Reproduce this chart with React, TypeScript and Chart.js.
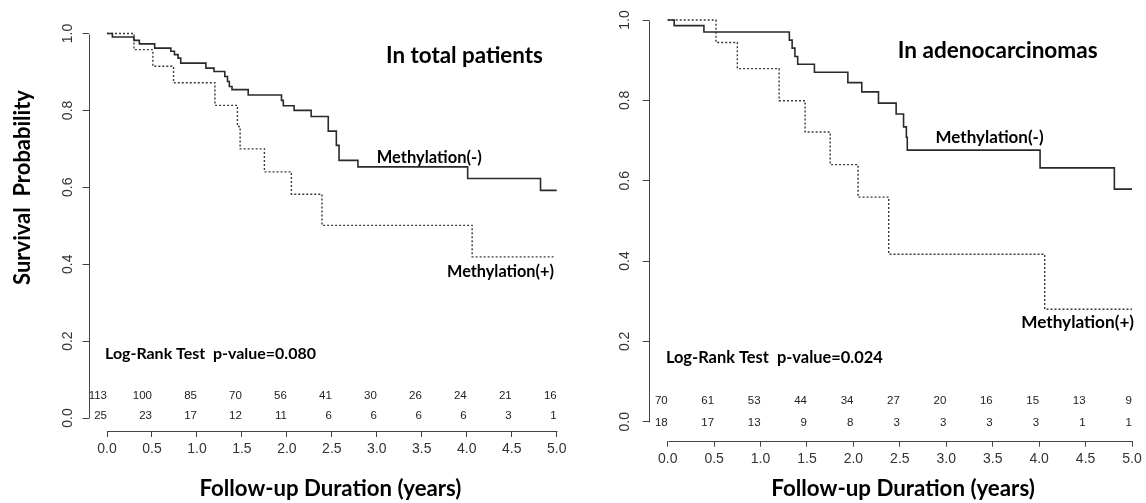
import React, { useEffect, useRef } from "react";
import { Chart, registerables } from "chart.js";

Chart.register(...registerables);

// ---------------- data ----------------
const xTickValues = [0, 0.5, 1, 1.5, 2, 2.5, 3, 3.5, 4, 4.5, 5];
const yTickValues = [0, 0.2, 0.4, 0.6, 0.8, 1.0];

// In total patients
const totalNegTimes = [0, 0.06, 0.3, 0.36, 0.53, 0.71, 0.75, 0.79, 0.82, 1.1, 1.19, 1.31, 1.34, 1.36, 1.39, 1.57, 1.94, 1.96, 2.08, 2.27, 2.46, 2.55, 2.58, 2.79, 4.01, 4.82, 5.0];
const totalNegSurv = [1, 0.991, 0.982, 0.973, 0.962, 0.954, 0.945, 0.936, 0.923, 0.91, 0.901, 0.888, 0.875, 0.862, 0.854, 0.84, 0.826, 0.812, 0.8, 0.784, 0.746, 0.709, 0.67, 0.653, 0.623, 0.592, 0.592];
const totalPosTimes = [0, 0.3, 0.51, 0.74, 1.2, 1.45, 1.48, 1.75, 2.05, 2.39, 4.06, 4.98];
const totalPosSurv = [1, 0.958, 0.915, 0.872, 0.813, 0.758, 0.7, 0.64, 0.582, 0.501, 0.419, 0.419];
const totalRiskNeg = [113, 100, 85, 70, 56, 41, 30, 26, 24, 21, 16];
const totalRiskPos = [25, 23, 17, 12, 11, 6, 6, 6, 6, 3, 1];

// In adenocarcinomas
const adenoNegTimes = [0, 0.07, 0.39, 1.31, 1.34, 1.37, 1.4, 1.58, 1.94, 2.09, 2.27, 2.46, 2.54, 2.57, 2.58, 4.01, 4.81, 5.0];
const adenoNegSurv = [1, 0.986, 0.97, 0.95, 0.93, 0.909, 0.89, 0.87, 0.844, 0.821, 0.793, 0.766, 0.734, 0.708, 0.676, 0.632, 0.579, 0.579];
const adenoPosTimes = [0, 0.52, 0.75, 1.2, 1.48, 1.75, 2.05, 2.38, 4.06, 5.0];
const adenoPosSurv = [1, 0.944, 0.879, 0.799, 0.721, 0.64, 0.559, 0.417, 0.28, 0.28];
const adenoRiskNeg = [70, 61, 53, 44, 34, 27, 20, 16, 15, 13, 9];
const adenoRiskPos = [18, 17, 13, 9, 8, 3, 3, 3, 3, 1, 1];

const titleTotal = "In total patients";
const titleAdeno = "In adenocarcinomas";
const labelNeg = "Methylation(-)";
const labelPos = "Methylation(+)";
const pTotal = "Log-Rank Test  p-value=0.080";
const pAdeno = "Log-Rank Test  p-value=0.024";
const xTitle = "Follow-up Duration (years)";
const yTitle = "Survival  Probability";

// ---------------- styles / layout ----------------
const W = 1146;
const H = 503;
const PANEL_W = 573;
const TOP_PAD = 8;
const FONT_NUM = "'Liberation Sans', Arial, Helvetica, sans-serif";
const FONT_TXT = "Lato, 'Open Sans', 'Noto Sans', sans-serif";
const AXIS_COLOR = "#444";
const TICK_COLOR = "#333";

type TextItem = { text: string; x: number; y: number; w: number; rot?: boolean };

type Panel = {
  offsetX: number;
  yAxisX: number;
  t0Px: number;
  t5Px: number;
  s1Py: number;
  s0Py: number;
  xAxisY: number;
  yLabelPad: number;
  riskY: [number, number];
  negT: number[];
  negS: number[];
  posT: number[];
  posS: number[];
  riskNeg: number[];
  riskPos: number[];
  texts: TextItem[];
};

const panels: Panel[] = [
  {
    offsetX: 0,
    yAxisX: 88.5,
    t0Px: 107,
    t5Px: 556.7,
    s1Py: 33.5,
    s0Py: 418,
    xAxisY: 431,
    yLabelPad: 5,
    riskY: [395.5, 416],
    negT: totalNegTimes,
    negS: totalNegSurv,
    posT: totalPosTimes,
    posS: totalPosSurv,
    riskNeg: totalRiskNeg,
    riskPos: totalRiskPos,
    texts: [
      { text: titleTotal, x: 386, y: 63.3, w: 157 },
      { text: labelNeg, x: 376.7, y: 162.5, w: 105 },
      { text: labelPos, x: 447, y: 276.5, w: 107 },
      { text: pTotal, x: 105, y: 358.5, w: 211 },
      { text: xTitle, x: 199.5, y: 495.5, w: 262 },
      { text: yTitle, x: 30, y: 187.5, w: 195, rot: true },
    ],
  },
  {
    offsetX: 573,
    yAxisX: 648.6,
    t0Px: 667.7,
    t5Px: 1132,
    s1Py: 20,
    s0Py: 421.7,
    xAxisY: 440.7,
    yLabelPad: 8,
    riskY: [400.7, 423.3],
    negT: adenoNegTimes,
    negS: adenoNegSurv,
    posT: adenoPosTimes,
    posS: adenoPosSurv,
    riskNeg: adenoRiskNeg,
    riskPos: adenoRiskPos,
    texts: [
      { text: titleAdeno, x: 897.7, y: 57.5, w: 200 },
      { text: labelNeg, x: 935.6, y: 142.5, w: 108 },
      { text: labelPos, x: 1021.2, y: 328, w: 113 },
      { text: pAdeno, x: 665.9, y: 363, w: 217 },
      { text: xTitle, x: 771.3, y: 495.5, w: 263.6 },
    ],
  },
];

function fitFont(ctx: CanvasRenderingContext2D, text: string, w: number) {
  ctx.font = `bold 100px ${FONT_TXT}`;
  const m = ctx.measureText(text).width;
  const size = (100 * w) / m;
  ctx.font = `bold ${size.toFixed(2)}px ${FONT_TXT}`;
}

function PanelChart({ p }: { p: Panel }) {
  const ref = useRef<HTMLCanvasElement | null>(null);

  useEffect(() => {
    if (!ref.current) return;
    const yAxisX = p.yAxisX - p.offsetX;
    const t0 = p.t0Px - p.offsetX;
    const t5 = p.t5Px - p.offsetX;
    const pxT = (t5 - t0) / 5;
    const xMin = (yAxisX - t0) / pxT;
    const xMax = 5 + (PANEL_W - t5) / pxT;
    const pxS = p.s0Py - p.s1Py;
    const yMax = 1 + (p.s1Py - TOP_PAD) / pxS;
    const yMin = -(p.xAxisY - p.s0Py) / pxS;

    const decor = {
      id: "kmDecor",
      afterDraw(chart: any) {
        const ctx: CanvasRenderingContext2D = chart.ctx;
        const xs = chart.scales.x;
        const ys = chart.scales.y;
        ctx.save();
        // detached axes (R style)
        ctx.strokeStyle = AXIS_COLOR;
        ctx.lineWidth = 1;
        const ax = Math.round(chart.chartArea.left) + 0.5;
        ctx.beginPath();
        ctx.moveTo(ax, Math.round(ys.getPixelForValue(0)) + 0.5);
        ctx.lineTo(ax, Math.round(ys.getPixelForValue(1)) + 0.5);
        ctx.stroke();
        const ay = Math.round(chart.chartArea.bottom) + 0.5;
        ctx.beginPath();
        ctx.moveTo(Math.round(xs.getPixelForValue(0)) + 0.5, ay);
        ctx.lineTo(Math.round(xs.getPixelForValue(5)) + 0.5, ay);
        ctx.stroke();

        // numbers at risk
        ctx.fillStyle = "#222";
        ctx.font = `11.5px ${FONT_NUM}`;
        ctx.textAlign = "right";
        ctx.textBaseline = "middle";
        p.riskNeg.forEach((n, i) => {
          ctx.fillText(String(n), xs.getPixelForValue(xTickValues[i]), p.riskY[0]);
        });
        p.riskPos.forEach((n, i) => {
          ctx.fillText(String(n), xs.getPixelForValue(xTickValues[i]), p.riskY[1]);
        });

        // annotations
        ctx.fillStyle = "#000";
        ctx.textBaseline = "alphabetic";
        p.texts.forEach((t) => {
          fitFont(ctx, t.text, t.w);
          const x = t.x - p.offsetX;
          if (t.rot) {
            ctx.save();
            ctx.translate(x, t.y);
            ctx.rotate(-Math.PI / 2);
            ctx.textAlign = "center";
            ctx.fillText(t.text, 0, 0);
            ctx.restore();
          } else {
            ctx.textAlign = "left";
            ctx.fillText(t.text, x, t.y);
          }
        });
        ctx.restore();
      },
    };

    const chart = new Chart(ref.current, {
      type: "line",
      data: {
        datasets: [
          {
            label: labelNeg,
            data: p.negT.map((t, i) => ({ x: t, y: p.negS[i] })),
            stepped: "before",
            borderColor: "#2a2a2a",
            borderWidth: 1.6,
            pointRadius: 0,
            fill: false,
          },
          {
            label: labelPos,
            data: p.posT.map((t, i) => ({ x: t, y: p.posS[i] })),
            stepped: "before",
            borderColor: "#3a3a3a",
            borderWidth: 1.4,
            borderDash: [2, 2],
            pointRadius: 0,
            fill: false,
          },
        ],
      },
      options: {
        responsive: false,
        animation: false,
        events: [],
        layout: { padding: { top: TOP_PAD, left: 0, right: 0, bottom: 0 } },
        plugins: { legend: { display: false }, tooltip: { enabled: false }, title: { display: false } },
        scales: {
          x: {
            type: "linear",
            position: "bottom",
            min: xMin,
            max: xMax,
            afterBuildTicks: (s: any) => {
              s.ticks = xTickValues.map((v) => ({ value: v }));
            },
            afterFit: (s: any) => {
              s.height = H - p.xAxisY;
              s.paddingLeft = 0;
              s.paddingRight = 0;
            },
            grid: { drawOnChartArea: false, drawTicks: true, tickLength: 6, color: AXIS_COLOR, lineWidth: 1 },
            border: { display: false },
            ticks: {
              autoSkip: false,
              minRotation: 0,
              maxRotation: 0,
              padding: 4,
              color: TICK_COLOR,
              font: { family: FONT_NUM, size: 14 },
              callback: (v: any) => Number(v).toFixed(1),
            },
          },
          y: {
            type: "linear",
            position: "left",
            min: yMin,
            max: yMax,
            afterBuildTicks: (s: any) => {
              s.ticks = yTickValues.map((v) => ({ value: v }));
            },
            afterFit: (s: any) => {
              s.width = yAxisX;
              s.paddingTop = 0;
              s.paddingBottom = 0;
            },
            grid: { drawOnChartArea: false, drawTicks: true, tickLength: 6, color: AXIS_COLOR, lineWidth: 1 },
            border: { display: false },
            ticks: {
              autoSkip: false,
              minRotation: 90,
              maxRotation: 90,
              crossAlign: "center",
              padding: p.yLabelPad,
              color: TICK_COLOR,
              font: { family: FONT_NUM, size: 14 },
              callback: (v: any) => Number(v).toFixed(1),
            },
          },
        },
      },
      plugins: [decor],
    } as any);

    return () => chart.destroy();
  }, [p]);

  return (
    <canvas
      ref={ref}
      width={PANEL_W}
      height={H}
      style={{ position: "absolute", left: p.offsetX, top: 0, width: PANEL_W, height: H, display: "block" }}
    />
  );
}

export default function App() {
  return (
    <div style={{ position: "fixed", left: 0, top: 0, width: W, height: H, background: "#fff", overflow: "hidden" }}>
      {panels.map((p, i) => (
        <PanelChart key={i} p={p} />
      ))}
    </div>
  );
}
